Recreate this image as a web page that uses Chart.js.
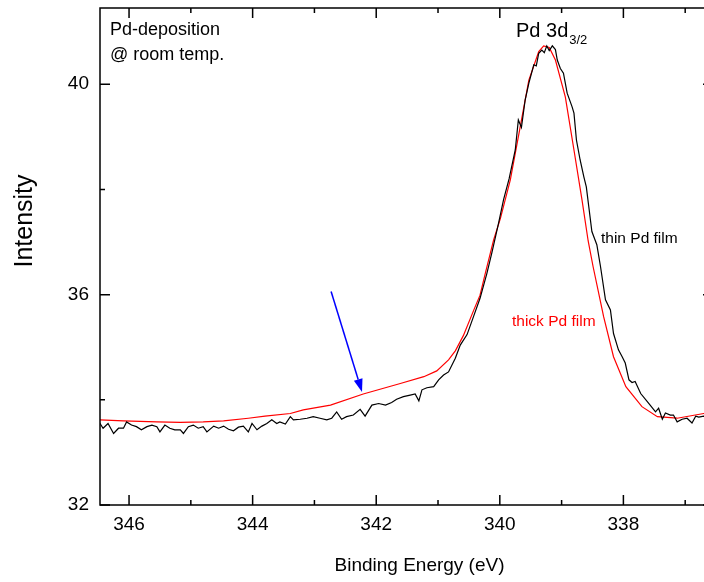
<!DOCTYPE html>
<html>
<head>
<meta charset="utf-8">
<script src="https://cdn.jsdelivr.net/npm/chart.js@4.4.1/dist/chart.umd.min.js"></script>
<style>
  html, body { margin: 0; padding: 0; background: #fff; overflow: hidden; }
  #wrap { position: relative; width: 716px; height: 582px; }
</style>
</head>
<body>
<div id="wrap"><canvas id="xps"></canvas></div>
<script>
// Pd 3d3/2 XPS spectra, thin vs thick Pd film
const thinE = [346.56, 346.47, 346.42, 346.34, 346.25, 346.17, 346.09, 346.04, 345.96, 345.88, 345.80, 345.71, 345.63, 345.55, 345.50, 345.42, 345.34, 345.26, 345.17, 345.12, 345.04, 344.96, 344.88, 344.80, 344.74, 344.63, 344.55, 344.47, 344.39, 344.31, 344.23, 344.15, 344.07, 344.01, 343.93, 343.85, 343.77, 343.69, 343.61, 343.56, 343.47, 343.39, 343.34, 343.23, 343.12, 343.02, 342.91, 342.80, 342.72, 342.64, 342.56, 342.48, 342.37, 342.26, 342.18, 342.07, 341.96, 341.85, 341.75, 341.67, 341.56, 341.45, 341.37, 341.31, 341.26, 341.18, 341.07, 340.99, 340.91, 340.83, 340.72, 340.64, 340.53, 340.42, 340.32, 340.21, 340.13, 340.02, 339.94, 339.85, 339.75, 339.70, 339.65, 339.59, 339.53, 339.45, 339.41, 339.37, 339.32, 339.28, 339.24, 339.20, 339.15, 339.10, 339.07, 339.02, 338.97, 338.91, 338.83, 338.80, 338.76, 338.70, 338.64, 338.60, 338.56, 338.51, 338.43, 338.37, 338.29, 338.21, 338.16, 338.08, 338.02, 337.97, 337.91, 337.86, 337.81, 337.72, 337.59, 337.48, 337.43, 337.37, 337.32, 337.24, 337.19, 337.13, 337.05, 336.97, 336.89, 336.83, 336.78, 336.70, 336.60, 336.52];
const thinI = [33.50, 33.55, 33.46, 33.55, 33.36, 33.46, 33.46, 33.58, 33.52, 33.49, 33.43, 33.49, 33.52, 33.49, 33.39, 33.52, 33.46, 33.43, 33.43, 33.36, 33.49, 33.52, 33.46, 33.49, 33.39, 33.50, 33.46, 33.50, 33.44, 33.41, 33.48, 33.50, 33.39, 33.55, 33.43, 33.50, 33.55, 33.62, 33.55, 33.58, 33.54, 33.68, 33.62, 33.63, 33.65, 33.68, 33.65, 33.62, 33.65, 33.77, 33.63, 33.68, 33.71, 33.82, 33.69, 33.90, 33.93, 33.90, 33.95, 34.01, 34.06, 34.09, 34.11, 33.98, 34.19, 34.23, 34.25, 34.38, 34.47, 34.53, 34.79, 35.04, 35.24, 35.60, 35.93, 36.40, 36.79, 37.36, 37.80, 38.20, 38.75, 39.32, 39.18, 39.70, 40.02, 40.37, 40.35, 40.59, 40.65, 40.60, 40.73, 40.64, 40.73, 40.66, 40.46, 40.30, 40.21, 39.83, 39.57, 39.45, 38.94, 38.56, 38.24, 38.05, 37.67, 37.20, 36.95, 36.53, 35.90, 35.71, 35.26, 34.95, 34.82, 34.70, 34.38, 34.33, 34.35, 34.12, 33.93, 33.77, 33.84, 33.63, 33.75, 33.71, 33.71, 33.58, 33.63, 33.65, 33.56, 33.69, 33.67, 33.69, 33.66, 33.68];

const thickE = [346.56, 346.47, 346.09, 345.55, 345.17, 344.80, 344.47, 344.07, 343.80, 343.39, 343.18, 342.74, 342.21, 341.61, 341.23, 341.02, 340.83, 340.72, 340.59, 340.42, 340.32, 340.24, 340.10, 339.99, 339.83, 339.67, 339.53, 339.37, 339.29, 339.20, 339.10, 338.94, 338.80, 338.67, 338.57, 338.49, 338.32, 338.16, 337.96, 337.70, 337.45, 337.13, 336.70, 336.52];
const thickI = [33.62, 33.62, 33.60, 33.58, 33.57, 33.58, 33.60, 33.65, 33.69, 33.74, 33.81, 33.90, 34.11, 34.31, 34.44, 34.55, 34.76, 34.93, 35.22, 35.71, 35.99, 36.38, 37.04, 37.45, 38.18, 39.19, 40.08, 40.62, 40.73, 40.70, 40.46, 39.76, 38.75, 37.80, 37.02, 36.53, 35.58, 34.82, 34.25, 33.87, 33.68, 33.65, 33.74, 33.77];

const xTicks = [346, 344, 342, 340, 338];
const xMinor = [345, 343, 341, 339, 337];
const yTicks = [32, 36, 40];
const yMinor = [34, 38];
const xRange = [336.55, 346.47];
const yRange = [32, 41.45];

// arrow pointing at the shoulder (energy, intensity)
const arrowFrom = [342.73, 36.06];
const arrowTo = [342.23, 34.15];

const FONT = "'Liberation Sans', Arial, Helvetica, sans-serif";
const pts = (xs, ys) => xs.map((x, i) => ({ x, y: ys[i] }));

const frame = {
  id: "frame",
  afterDatasetsDraw(chart) {
    const { ctx, chartArea: a, scales: { x, y } } = chart;
    ctx.save();
    ctx.strokeStyle = "#000";
    ctx.lineWidth = 1.5;
    ctx.strokeRect(a.left, a.top, a.right - a.left, a.bottom - a.top);
    ctx.beginPath();
    const tx = (v, len) => {
      const p = x.getPixelForValue(v);
      ctx.moveTo(p, a.bottom); ctx.lineTo(p, a.bottom - len);
      ctx.moveTo(p, a.top); ctx.lineTo(p, a.top + len);
    };
    const ty = (v, len) => {
      const p = y.getPixelForValue(v);
      ctx.moveTo(a.left, p); ctx.lineTo(a.left + len, p);
      ctx.moveTo(a.right, p); ctx.lineTo(a.right - len, p);
    };
    xTicks.forEach((v) => tx(v, 10));
    xMinor.forEach((v) => tx(v, 5));
    yTicks.forEach((v) => ty(v, 10));
    yMinor.forEach((v) => ty(v, 5));
    ctx.stroke();

    // blue arrow
    const x0 = x.getPixelForValue(arrowFrom[0]), y0 = y.getPixelForValue(arrowFrom[1]);
    const x1 = x.getPixelForValue(arrowTo[0]), y1 = y.getPixelForValue(arrowTo[1]);
    const ang = Math.atan2(y1 - y0, x1 - x0);
    const hl = 13, hw = 4.5;
    const bx = x1 - hl * Math.cos(ang), by = y1 - hl * Math.sin(ang);
    ctx.strokeStyle = "#0000ff";
    ctx.fillStyle = "#0000ff";
    ctx.lineWidth = 1.5;
    ctx.beginPath(); ctx.moveTo(x0, y0); ctx.lineTo(bx, by); ctx.stroke();
    ctx.beginPath();
    ctx.moveTo(x1, y1);
    ctx.lineTo(bx + hw * Math.sin(ang), by - hw * Math.cos(ang));
    ctx.lineTo(bx - hw * Math.sin(ang), by + hw * Math.cos(ang));
    ctx.closePath(); ctx.fill();
    ctx.restore();
  },
  afterDraw(chart) {
    const { ctx } = chart;
    ctx.save();
    ctx.fillStyle = "#000";
    ctx.textBaseline = "alphabetic";
    ctx.textAlign = "left";
    ctx.font = `18px ${FONT}`;
    ctx.fillText("Pd-deposition", 110, 35);
    ctx.fillText("@ room temp.", 110, 59.5);

    ctx.font = `20px ${FONT}`;
    ctx.fillText("Pd 3d", 516, 37);
    const w = ctx.measureText("Pd 3d").width;
    ctx.font = `13px ${FONT}`;
    ctx.fillText("3/2", 516 + w + 1, 44);

    ctx.font = `15.5px ${FONT}`;
    ctx.fillText("thin Pd film", 601, 243);
    ctx.fillStyle = "#ff0000";
    ctx.fillText("thick Pd film", 512, 325.5);

    // axis titles
    ctx.fillStyle = "#000";
    ctx.textAlign = "center";
    ctx.font = `19px ${FONT}`;
    ctx.textBaseline = "middle";
    ctx.fillText("Binding Energy (eV)", 419.5, 566);
    ctx.translate(32, 221);
    ctx.rotate(-Math.PI / 2);
    ctx.font = `25px ${FONT}`;
    ctx.textBaseline = "alphabetic";
    ctx.fillText("Intensity", 0, 0);
    ctx.restore();
  },
};

new Chart(document.getElementById("xps"), {
  type: "line",
  data: {
    datasets: [
      { label: "thin Pd film", data: pts(thinE, thinI), borderColor: "#000000", borderWidth: 1.2, pointRadius: 0, tension: 0, fill: false },
      { label: "thick Pd film", data: pts(thickE, thickI), borderColor: "#ff0000", borderWidth: 1.2, pointRadius: 0, tension: 0, fill: false },
    ],
  },
  options: {
    responsive: true, maintainAspectRatio: false, animation: false, devicePixelRatio: 1,
    layout: { padding: { top: 8, right: 3, left: 0, bottom: 0 } },
    plugins: { legend: { display: false }, tooltip: { enabled: false } },
    scales: {
      x: {
        type: "linear", reverse: true, min: xRange[0], max: xRange[1],
        afterBuildTicks: (s) => { s.ticks = xTicks.map((v) => ({ value: v })); },
        afterFit: (s) => { s.height = 77; s.paddingLeft = 0; s.paddingRight = 0; },
        grid: { display: false, drawTicks: false }, border: { display: false },
        ticks: { color: "#000", padding: 8, maxRotation: 0, font: { family: FONT, size: 19 } },
      },
      y: {
        type: "linear", min: yRange[0], max: yRange[1],
        afterBuildTicks: (s) => { s.ticks = yTicks.map((v) => ({ value: v })); },
        afterFit: (s) => { s.width = 100; s.paddingTop = 0; s.paddingBottom = 0; },
        grid: { display: false, drawTicks: false }, border: { display: false },
        ticks: { color: "#000", padding: 11, font: { family: FONT, size: 19 } },
      },
    },
  },
  plugins: [frame],
});
</script>
</body>
</html>
